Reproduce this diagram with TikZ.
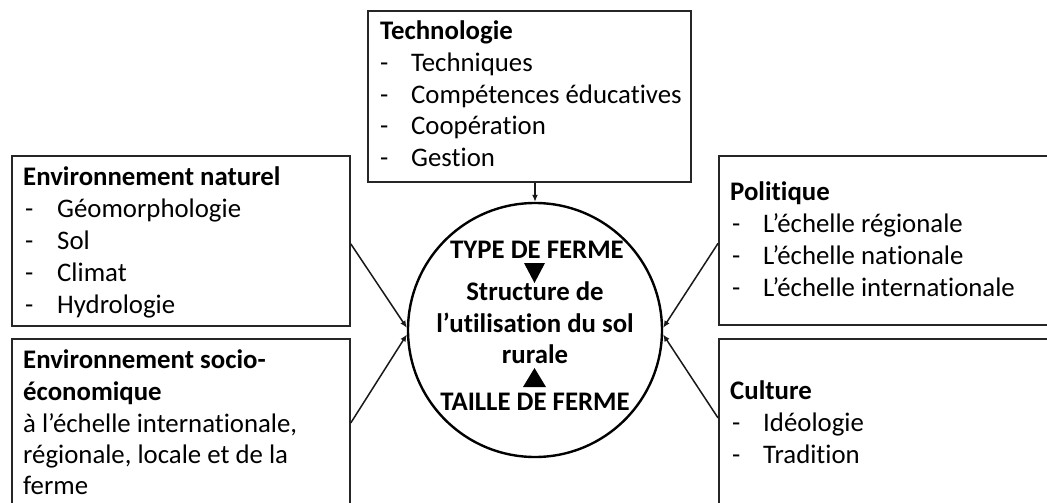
\documentclass[tikz,border=0pt]{standalone}
\usepackage{fontspec}
\setmainfont{Carlito}[Ligatures=CommonOff]
\usetikzlibrary{arrows.meta,calc}
\begin{document}
\begin{tikzpicture}[x=1pt,y=-1pt,
  box/.style={draw=black!85,line width=1.8pt,rectangle,inner sep=0pt,anchor=north west},
  txt/.style={anchor=base west,inner sep=0pt,font=\fontsize{26.8}{32}\selectfont,text=black},
  btxt/.style={txt,font=\fontsize{26.8}{32}\selectfont\bfseries},
  ctxt/.style={anchor=base,inner sep=0pt,font=\fontsize{26.8}{32}\selectfont\bfseries,text=black},
  tri/.style={fill=black,draw=none},
  arr/.style={line width=1.5pt,black!90,-{Latex[length=7pt,width=6pt]}}]
\useasboundingbox (0,0) rectangle (1047,503);
\fill[white] (0,0) rectangle (1047,503);
% boxes
\node[box,minimum width=323pt,minimum height=171pt] (tech) at (367,10) {};
\node[box,minimum width=338pt,minimum height=170pt] (nat) at (11,155) {};
\node[box,minimum width=338pt,minimum height=168pt] (soc) at (11,338) {};
\node[box,minimum width=345pt,minimum height=169pt] (pol) at (718,155) {};
\node[box,minimum width=345pt,minimum height=168pt] (cul) at (718,338) {};
% circle
\node[circle,draw=black,line width=2.4pt,minimum size=254pt,inner sep=0pt] (c) at (535,330) {};
% Technologie
\node[btxt] (t0) at (380,40) {Technologie};
\foreach \y/\t [count=\i] in {71.5/Techniques,103/Compétences éducatives,134.5/Coopération,166/Gestion}{
  \node[txt] (td\i) at (380,\y) {-};
  \node[txt] (t\i) at (411,\y) {\t};
}
% Environnement naturel
\node[btxt] (n0) at (23,185) {Environnement naturel};
\foreach \y/\t [count=\i] in {217/Géomorphologie,249/Sol,281/Climat,313/Hydrologie}{
  \node[txt] (nd\i) at (25,\y) {-};
  \node[txt] (n\i) at (57,\y) {\t};
}
% Socio-economique
\node[btxt] (s0) at (23,368) {Environnement socio-};
\node[btxt] (s1) at (23,400) {économique};
\node[txt] (s2) at (23,432) {à l’échelle internationale,};
\node[txt] (s3) at (23,463) {régionale, locale et de la};
\node[txt] (s4) at (23,494) {ferme};
% Politique
\node[btxt] (p0) at (730,200) {Politique};
\foreach \y/\t [count=\i] in {232/L’échelle régionale,264/L’échelle nationale,296/L’échelle internationale}{
  \node[txt] (pd\i) at (732,\y) {-};
  \node[txt] (p\i) at (763,\y) {\t};
}
% Culture
\node[btxt] (k0) at (730,399) {Culture};
\foreach \y/\t [count=\i] in {431/Idéologie,463/Tradition}{
  \node[txt] (kd\i) at (732,\y) {-};
  \node[txt] (k\i) at (763,\y) {\t};
}
% circle text
\node[ctxt] (c1) at (537,258) {TYPE DE FERME};
\node[ctxt] (c2) at (535,300) {Structure de};
\node[ctxt] (c3) at (535,332) {l’utilisation du sol};
\node[ctxt] (c4) at (535,363) {rurale};
\node[ctxt] (c5) at (535,410) {TAILLE DE FERME};
\fill[tri] (524,263) -- (545,263) -- (534.5,283) -- cycle;
\fill[tri] (523,387) -- (546,387) -- (534.5,368) -- cycle;
% connectors
\draw[arr] (c.north |- tech.south) -- (c.north);
\draw[arr] ($(nat.east)+(0,3)$) -- (c.179);
\draw[arr] (soc.east) -- (c.182);
\draw[arr] ($(pol.west)+(0,3)$) -- (c.1);
\draw[arr] ($(cul.west)+(0,-5)$) -- (c.-2);
\end{tikzpicture}
\end{document}
